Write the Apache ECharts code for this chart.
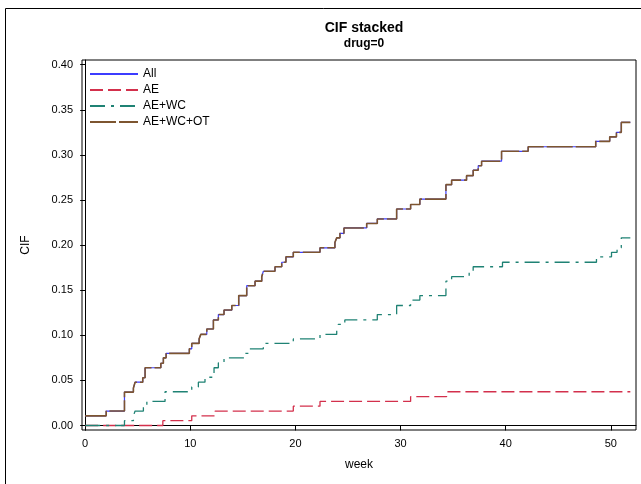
<!DOCTYPE html>
<html>
<head>
<meta charset="utf-8">
<script src="https://cdn.jsdelivr.net/npm/echarts@6/dist/echarts.min.js"></script>
<style>
  html, body { margin: 0; padding: 0; background: #fff; }
  #main { width: 641px; height: 484px; }
</style>
</head>
<body>
<div id="main"></div>
<script>
// step curves: week where the CIF jumps, and the new value
var allWeek = [0, 2.0, 3.74, 4.59, 4.75, 5.48, 5.70, 7.20, 7.44, 7.70,
  9.91, 10.14, 10.84, 11.0, 11.57, 12.2, 12.67, 13.21, 13.95, 14.61,
  15.37, 16.16, 16.8, 16.95, 18.06, 18.7, 19.1, 19.8, 22.34, 23.76,
  23.93, 24.24, 24.62, 26.78, 27.79, 29.63, 30.96, 31.84, 34.32, 34.86,
  36.28, 36.91, 37.39, 37.71, 39.61, 42.14, 48.57, 49.9, 50.54, 51.0, 51.86];
var allCif = [0.0107, 0.016, 0.037, 0.0415, 0.048, 0.053, 0.064, 0.069, 0.075, 0.080,
  0.085, 0.091, 0.096, 0.101, 0.107, 0.117, 0.123, 0.128, 0.133, 0.144,
  0.155, 0.160, 0.165, 0.171, 0.176, 0.181, 0.187, 0.192, 0.197, 0.203,
  0.208, 0.213, 0.219, 0.224, 0.229, 0.240, 0.245, 0.251, 0.267, 0.272,
  0.277, 0.283, 0.288, 0.293, 0.304, 0.309, 0.315, 0.320, 0.325, 0.336, 0.336];

var aeWeek = [0, 7.39, 10.14, 12.36, 19.8, 22.34, 30.96, 34.38, 51.86];
var aeCif = [0, 0.0053, 0.0107, 0.016, 0.0214, 0.0267, 0.032, 0.0374, 0.0374];

var wcWeek = [0, 3.74, 4.59, 4.75, 5.54, 5.87, 7.6, 10.14, 10.77, 11.4,
  12.26, 12.67, 13.21, 15.2, 15.62, 16.95, 19.8, 22.34, 23.93, 24.08,
  24.7, 27.79, 29.63, 30.96, 31.84, 34.32, 34.86, 36.53, 36.91, 39.7,
  48.64, 50.07, 50.6, 51.0, 51.86];
var wcCif = [0, 0.0053, 0.0107, 0.016, 0.0213, 0.0267, 0.0374, 0.0428, 0.048, 0.0535,
  0.064, 0.0695, 0.075, 0.080, 0.085, 0.091, 0.096, 0.101, 0.107, 0.112,
  0.117, 0.123, 0.133, 0.139, 0.144, 0.160, 0.165, 0.171, 0.176, 0.181,
  0.187, 0.192, 0.197, 0.208, 0.208];

// AE+WC+OT is the top of the stack, same as All
var otWeek = allWeek;
var otCif = allCif;

var names = ['All', 'AE', 'AE+WC', 'AE+WC+OT'];
var xTicks = [0, 10, 20, 30, 40, 50];
var yTicks = [0, 0.05, 0.10, 0.15, 0.20, 0.25, 0.30, 0.35, 0.40];

function pairs(xs, ys) {
  return xs.map(function (x, i) { return [x, ys[i]]; });
}

var font = '"Liberation Sans", Arial, sans-serif';
var chart = echarts.init(document.getElementById('main'));

function stepLine(name, xs, ys, color, dash, width) {
  return {
    name: name,
    type: 'line',
    step: 'end',
    symbol: 'none',
    data: pairs(xs, ys),
    color: color,
    lineStyle: { color: color, width: width, type: dash },
    emphasis: { disabled: true }
  };
}

chart.setOption({
  animation: false,
  title: [
    { text: 'CIF stacked', left: 359, top: 16, textAlign: 'center',
      textStyle: { fontFamily: font, fontSize: 14, fontWeight: 'bold', color: '#000' } },
    { text: 'drug=0', left: 359, top: 33, textAlign: 'center',
      textStyle: { fontFamily: font, fontSize: 12, fontWeight: 'bold', color: '#000' } }
  ],
  graphic: [{
    type: 'rect',
    shape: { x: 5.5, y: 8.5, width: 710, height: 490 },
    style: { fill: 'none', stroke: '#000', lineWidth: 1 },
    silent: true
  }],
  legend: {
    data: names,
    orient: 'vertical',
    left: 89,
    top: 68,
    padding: 0,
    itemWidth: 48,
    itemHeight: 10,
    itemGap: 4,
    itemStyle: { opacity: 0 },
    textStyle: { fontFamily: font, fontSize: 12, color: '#000' }
  },
  grid: {
    left: 82, right: 5, top: 60, bottom: 54,
    show: true, borderColor: '#000', borderWidth: 1,
    containLabel: false
  },
  xAxis: {
    type: 'value',
    min: -0.3, max: 52.4,
    name: 'week',
    nameLocation: 'middle',
    nameGap: 29,
    nameTextStyle: { fontFamily: font, fontSize: 12, color: '#000' },
    splitLine: { show: false },
    axisLine: { lineStyle: { color: '#000' } },
    axisTick: { length: 5, customValues: xTicks, lineStyle: { color: '#000' } },
    axisLabel: { customValues: xTicks, margin: 8, fontFamily: font, fontSize: 11, color: '#000' }
  },
  yAxis: {
    type: 'value',
    min: -0.005, max: 0.4052,
    name: 'CIF',
    nameLocation: 'middle',
    nameGap: 50,
    nameTextStyle: { fontFamily: font, fontSize: 12, color: '#000' },
    splitLine: { show: false },
    axisLine: { show: true, lineStyle: { color: '#000' } },
    axisTick: { show: true, length: 5, customValues: yTicks, lineStyle: { color: '#000' } },
    axisLabel: {
      customValues: yTicks, margin: 9, fontFamily: font, fontSize: 11, color: '#000',
      formatter: function (v) { return v.toFixed(2); }
    }
  },
  series: [
    stepLine('All', allWeek, allCif, '#3c3cff', 'solid', 1.2),
    stepLine('AE', aeWeek, aeCif, '#d3304c', [13, 5], 1.3),
    stepLine('AE+WC', wcWeek, wcCif, '#1f8274', [15, 6, 3, 6], 1.3),
    stepLine('AE+WC+OT', otWeek, otCif, '#7d5530', [26, 3], 1.6)
  ]
});
</script>
</body>
</html>
